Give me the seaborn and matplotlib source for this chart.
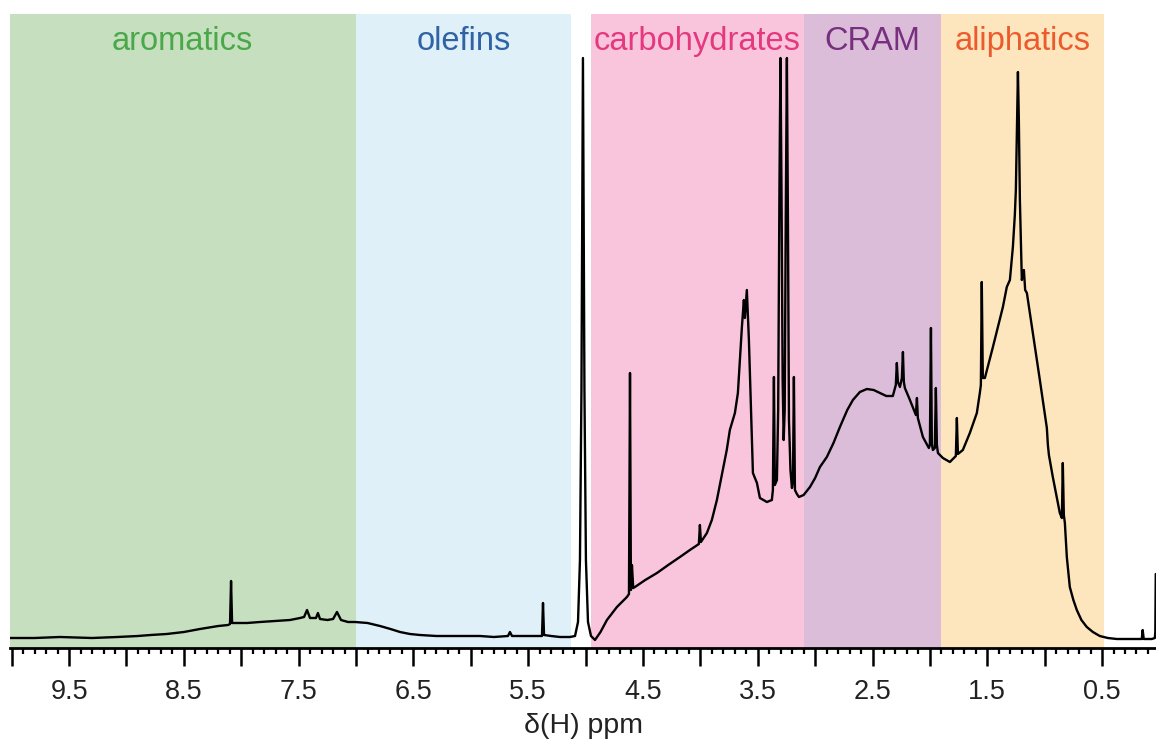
import matplotlib
matplotlib.use("Agg")
import matplotlib.pyplot as plt
import matplotlib.transforms as mtransforms
from matplotlib.ticker import MultipleLocator
import seaborn as sns

# ---- spectrum (chemical shift in ppm, intensity in arbitrary units) ----
PPM = [
    10.03, 9.80, 9.58, 9.30, 9.08, 8.90, 8.79, 8.65, 8.50, 8.36, 8.20, 8.115, 8.098, 8.089, 8.080,
    7.95, 7.837, 7.70, 7.575, 7.488, 7.453, 7.427, 7.401, 7.349, 7.332, 7.314, 7.25, 7.20, 7.166,
    7.131, 7.07, 7.009, 6.90, 6.791, 6.70, 6.617, 6.53, 6.443, 6.30, 6.182, 6.05, 5.920, 5.80,
    5.676, 5.659, 5.641, 5.484, 5.380, 5.371, 5.362, 5.30, 5.223, 5.136, 5.092, 5.066, 5.049,
    5.036, 5.023, 5.010, 4.997, 4.979, 4.953, 4.918, 4.87, 4.814, 4.727, 4.640, 4.622, 4.613,
    4.605, 4.596, 4.585, 4.570, 4.48, 4.378, 4.28, 4.178, 4.091, 4.013, 4.004, 3.995, 3.943,
    3.90, 3.856, 3.804, 3.77, 3.743, 3.699, 3.673, 3.65, 3.638, 3.621, 3.612, 3.595, 3.577, 3.551,
    3.542, 3.507, 3.481, 3.420, 3.377, 3.368, 3.359, 3.351, 3.333, 3.322, 3.311, 3.302, 3.293,
    3.283, 3.274, 3.265, 3.256, 3.246, 3.237, 3.228, 3.215, 3.202, 3.193, 3.185, 3.176, 3.159,
    3.141, 3.10, 3.045, 3.00, 2.958, 2.898, 2.84, 2.784, 2.72, 2.671, 2.61, 2.549, 2.49, 2.436,
    2.38, 2.323, 2.297, 2.288,
    2.279, 2.261, 2.244, 2.235, 2.227, 2.218, 2.174, 2.122, 2.113, 2.105, 2.061, 2.009, 2.000,
    1.991, 1.983, 1.974, 1.957, 1.948, 1.939, 1.930, 1.887, 1.826, 1.774, 1.765, 1.756, 1.713,
    1.652, 1.591, 1.565, 1.556, 1.548, 1.539, 1.521, 1.451, 1.364, 1.330, 1.303, 1.277, 1.26,
    1.251, 1.240, 1.233, 1.225, 1.216, 1.199, 1.181, 1.170, 1.155, 1.103, 1.042, 0.981, 0.972,
    0.963, 0.929, 0.868, 0.850, 0.842, 0.833, 0.824, 0.807, 0.781, 0.75, 0.720, 0.68, 0.633,
    0.58, 0.520, 0.45, 0.372, 0.154, 0.146, 0.137, 0.067, 0.040, 0.036, 0.032,
]
INTENSITY = [
    2, 2, 3, 2, 3, 4, 5, 6, 8, 11, 14, 15, 16, 59, 17,
    17, 18, 19, 20, 22, 23, 30, 22, 22, 27, 21, 20, 21, 28,
    20, 18, 18, 17, 14, 11, 8, 6, 5, 4, 4, 4, 4, 3,
    4, 8, 4, 4, 4, 37, 5, 4, 3, 3, 4, 18, 80,
    250, 582, 250, 80, 18, 4, 0, 8, 20, 33, 43, 46, 267,
    50, 75, 52, 53, 60, 67, 75, 83, 90, 96, 115, 98, 107,
    120, 140, 170, 190, 210, 227, 247, 290, 313, 340, 322, 350, 300, 200,
    167, 157, 142, 138, 140, 150, 263, 155, 160, 230, 450, 582, 450,
    260, 200, 230, 420, 582, 420, 220, 170, 152, 160, 263, 150, 146,
    143, 145, 153, 162, 173, 183, 197, 213, 230, 240, 248, 251, 250, 247,
    244, 244, 255, 277,
    258, 253, 262, 288, 258, 252, 240, 225, 242, 222, 203, 192, 195,
    312, 196, 190, 192, 252, 195, 187, 182, 178, 184, 222, 186, 190,
    207, 227, 247, 255, 358, 262, 262, 293, 333, 353, 360, 393, 425,
    450, 520, 568, 520, 440, 360, 370, 350, 347, 307, 260, 212, 195,
    185, 163, 127, 122, 177, 125, 117, 83, 53, 40, 30, 20, 13,
    8, 4, 2, 1, 1, 10, 1, 1, 2, 8, 66,
]

# ---- spectral regions ----
REGION_NAMES = ["aromatics", "olefins", "carbohydrates", "CRAM", "aliphatics"]
REGION_START = [10.03, 7.00, 4.95, 3.10, 1.90]
REGION_END = [7.00, 5.13, 3.10, 1.90, 0.48]
REGION_BG = ["#c6dfbf", "#dff0f8", "#f9c5dc", "#dbbcd9", "#fde6bd"]
REGION_FG = ["#4aa84a", "#2f63a5", "#e4397f", "#77307f", "#ec5b2d"]

# ---- axis ----
TICK_LABELS = ["9.5", "8.5", "7.5", "6.5", "5.5", "4.5", "3.5", "2.5", "1.5", "0.5"]
UNLABELED_MAJOR = [10, 9, 8, 7, 6, 5, 4, 3, 2, 1]
X_LABEL = "δ(H) ppm"

sns.set_style("white")
plt.rcParams["font.family"] = ["Liberation Sans", "DejaVu Sans"]

fig = plt.figure(figsize=(11.56, 7.40), dpi=100)
ax = fig.add_axes([10 / 1156, 92 / 740, 1146 / 1156, 634 / 740])

trans = mtransforms.blended_transform_factory(ax.transData, ax.transAxes)
for name, s, e, bg, fg in zip(REGION_NAMES, REGION_START, REGION_END, REGION_BG, REGION_FG):
    ax.axvspan(s, e, color=bg, lw=0, zorder=0)
    ax.text((s + e) / 2, 0.943, name, transform=trans, ha="center", va="baseline",
            color=fg, fontsize=23.5)

sns.lineplot(x=PPM, y=INTENSITY, ax=ax, color="black", lw=1.7,
             estimator=None, sort=False, zorder=3)

ax.set_xlim(10.015, 0.03)
ax.set_ylim(-8, 626)

for side in ["left", "top", "right"]:
    ax.spines[side].set_visible(False)
ax.spines["bottom"].set_linewidth(2.0)
ax.spines["bottom"].set_color("black")
ax.set_yticks([])
ax.set_ylabel("")

major_pos = [float(t) for t in TICK_LABELS] + UNLABELED_MAJOR
major_lab = TICK_LABELS + [""] * len(UNLABELED_MAJOR)
ax.set_xticks(major_pos)
ax.set_xticklabels(major_lab)
ax.xaxis.set_minor_locator(MultipleLocator(0.1))
ax.tick_params(axis="x", which="major", direction="out", length=13, width=1.8,
               color="black", labelsize=19.5, labelcolor="#222222", pad=9, bottom=True)
ax.tick_params(axis="x", which="minor", direction="out", length=4, width=1.6,
               color="black", bottom=True)
ax.set_xlabel(X_LABEL, fontsize=20.5, labelpad=6, color="#222222")

fig.savefig("out.png", dpi=100)
